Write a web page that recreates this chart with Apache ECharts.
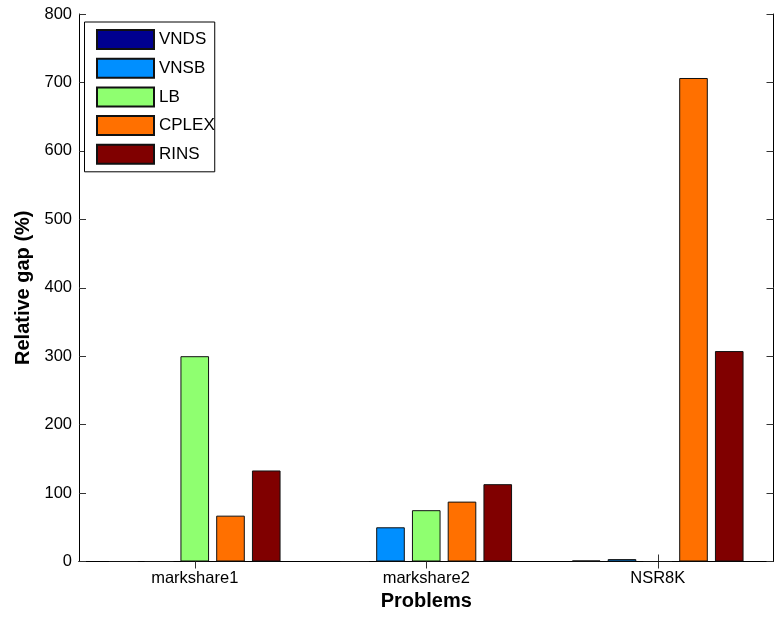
<!DOCTYPE html>
<html>
<head>
<meta charset="utf-8">
<script src="https://cdn.jsdelivr.net/npm/echarts@6/dist/echarts.min.js"></script>
<style>
html,body{margin:0;padding:0;background:#fff;}
#chart{width:778px;height:617px;}
</style>
</head>
<body>
<div id="chart"></div>
<script>
const categories = ['markshare1', 'markshare2', 'NSR8K'];
const seriesNames = ['VNDS', 'VNSB', 'LB', 'CPLEX', 'RINS'];
const VNDS = [0, 0, 1.5];
const VNSB = [0, 50, 3.5];
const LB = [300, 75, 0];
const CPLEX = [67, 87.5, 706.5];
const RINS = [133, 113, 307.5];
const yTicks = [0, 100, 200, 300, 400, 500, 600, 700, 800];
const colors = ['#00008f', '#008fff', '#8fff70', '#ff7000', '#800000'];

const values = [VNDS, VNSB, LB, CPLEX, RINS];
const font = 'Liberation Sans, Arial, Helvetica, sans-serif';

const chart = echarts.init(document.getElementById('chart'), null, {renderer: 'canvas'});
const axisLine = {show: true, lineStyle: {color: '#000', width: 1}};
const tick = {show: true, inside: true, length: 7, lineStyle: {color: '#333', width: 1}};

chart.setOption({
  animation: false,
  backgroundColor: '#fff',
  grid: {left: 79, right: 4.5, top: 14, bottom: 55.5, containLabel: false},
  legend: {
    orient: 'vertical', left: 84.5, top: 22,
    data: seriesNames,
    itemWidth: 57, itemHeight: 19, itemGap: 7.7,
    padding: [7, 0, 7, 11.5],
    backgroundColor: '#fff', borderColor: '#000', borderWidth: 1,
    textStyle: {fontFamily: font, fontSize: 17, color: '#000'},
    icon: 'rect'
  },
  xAxis: [
    {type: 'category', data: categories, position: 'bottom',
     axisLine: axisLine, axisTick: Object.assign({alignWithLabel: true}, tick),
     axisLabel: {fontFamily: font, fontSize: 16.5, color: '#000', margin: 8},
     name: 'Problems', nameLocation: 'middle', nameGap: 30,
     nameTextStyle: {fontFamily: font, fontSize: 20, fontWeight: 'bold', color: '#000'}},
    {type: 'category', data: categories, position: 'top',
     axisLine: axisLine, axisTick: Object.assign({alignWithLabel: true}, tick),
     axisLabel: {show: false}}
  ],
  yAxis: [
    {type: 'value', min: yTicks[0], max: yTicks[yTicks.length - 1], interval: 100, position: 'left',
     axisLine: axisLine, axisTick: tick, splitLine: {show: false},
     axisLabel: {fontFamily: font, fontSize: 16.5, color: '#000', margin: 7},
     name: 'Relative gap (%)', nameLocation: 'middle', nameGap: 46,
     nameTextStyle: {fontFamily: font, fontSize: 20, fontWeight: 'bold', color: '#000'}},
    {type: 'value', min: yTicks[0], max: yTicks[yTicks.length - 1], interval: 100, position: 'right',
     axisLine: axisLine, axisTick: tick, splitLine: {show: false}, axisLabel: {show: false}}
  ],
  series: seriesNames.map((n, i) => ({
    name: n, type: 'bar', data: values[i],
    xAxisIndex: 0, yAxisIndex: 0,
    barWidth: 28.6, barGap: '25%',
    itemStyle: {color: colors[i], borderColor: '#111', borderWidth: 1}
  }))
});
</script>
</body>
</html>
